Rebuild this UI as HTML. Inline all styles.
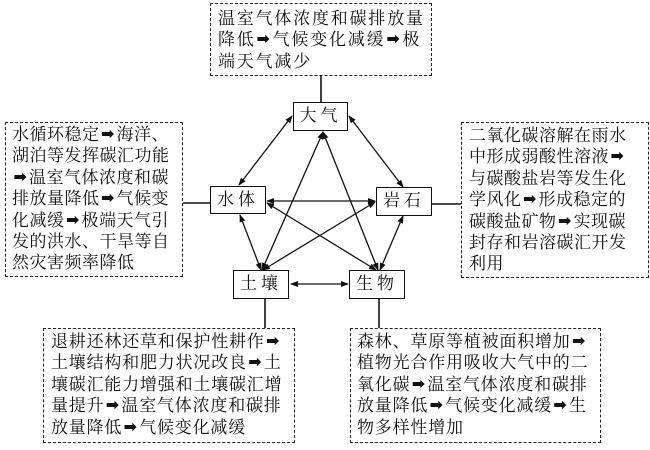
<!DOCTYPE html>
<html><head><meta charset="utf-8"><style>
body{margin:0;width:650px;height:450px;background:#fff;position:relative;overflow:hidden;font-family:"Liberation Serif","Noto Serif CJK SC","Noto Sans CJK SC",serif;color:#111}
.d{position:absolute;border:1.5px dashed #222;box-sizing:border-box}
.t{position:absolute;font-size:17px;line-height:21.4px;white-space:nowrap}
.t div{height:21.4px}
.n{position:absolute;border:1.5px solid #111;box-sizing:border-box;font-size:17px;text-align:center;letter-spacing:4px;background:#fff}
.a{font-family:"DejaVu Sans",sans-serif;font-size:16px;font-weight:bold;display:inline-block;width:17px;text-align:center;line-height:10px;vertical-align:1px}
svg{position:absolute;left:0;top:0}
</style></head><body>
<svg width="650" height="450">
<defs><marker id="m" markerWidth="8" markerHeight="8" refX="7" refY="4" orient="auto-start-reverse" markerUnits="userSpaceOnUse"><path d="M0,1 L8,4 L0,7 Z" fill="#111"/></marker></defs>
<g stroke="#111" stroke-width="1.3" fill="none">
<line x1="321" y1="75" x2="321" y2="102" stroke-width="1.6"/>
<line x1="183" y1="203" x2="210" y2="203" stroke-width="1.6"/>
<line x1="432" y1="204" x2="461" y2="204" stroke-width="1.6"/>
<line x1="265" y1="299" x2="265" y2="328" stroke-width="1.6"/>
<line x1="379" y1="299" x2="379" y2="328" stroke-width="1.6"/>
<g marker-start="url(#m)" marker-end="url(#m)">
<line x1="292" y1="116" x2="239" y2="185"/>
<line x1="349" y1="116" x2="403" y2="187"/>
<line x1="323" y1="132" x2="262" y2="270"/>
<line x1="323" y1="132" x2="378" y2="270"/>
<line x1="267" y1="201" x2="375" y2="201"/>
<line x1="240" y1="215" x2="261" y2="270"/>
<line x1="267" y1="203" x2="376" y2="270"/>
<line x1="375" y1="202" x2="263" y2="270"/>
<line x1="403" y1="216" x2="380" y2="270"/>
<line x1="291" y1="284" x2="348" y2="284"/>
</g></g></svg>
<div class="d" style="left:210px;top:3px;width:222px;height:73px"></div>
<div class="t" style="left:218px;top:8px;letter-spacing:1.8px"><div>温室气体浓度和碳排放量</div><div>降低<span class="a">➡</span>气候变化减缓<span class="a">➡</span>极</div><div>端天气减少</div></div>
<div class="d" style="left:5px;top:122px;width:178px;height:155px"></div>
<div class="t" style="left:12px;top:124px;letter-spacing:0.5px"><div>水循环稳定<span class="a">➡</span>海洋、</div><div>湖泊等发挥碳汇功能</div><div><span class="a">➡</span>温室气体浓度和碳</div><div>排放量降低<span class="a">➡</span>气候变</div><div>化减缓<span class="a">➡</span>极端天气引</div><div>发的洪水、干旱等自</div><div>然灾害频率降低</div></div>
<div class="d" style="left:461px;top:122px;width:188px;height:156px"></div>
<div class="t" style="left:469px;top:125px;letter-spacing:0.5px"><div>二氧化碳溶解在雨水</div><div>中形成弱酸性溶液<span class="a">➡</span></div><div>与碳酸盐岩等发生化</div><div>学风化<span class="a">➡</span>形成稳定的</div><div>碳酸盐矿物<span class="a">➡</span>实现碳</div><div>封存和岩溶碳汇开发</div><div>利用</div></div>
<div class="d" style="left:43px;top:328px;width:252px;height:115px"></div>
<div class="t" style="left:51px;top:331px;letter-spacing:0.8px"><div>退耕还林还草和保护性耕作<span class="a">➡</span></div><div>土壤结构和肥力状况改良<span class="a">➡</span>土</div><div>壤碳汇能力增强和土壤碳汇增</div><div>量提升<span class="a">➡</span>温室气体浓度和碳排</div><div>放量降低<span class="a">➡</span>气候变化减缓</div></div>
<div class="d" style="left:350px;top:328px;width:251px;height:115px"></div>
<div class="t" style="left:357px;top:331px;letter-spacing:0.8px"><div>森林、草原等植被面积增加<span class="a">➡</span></div><div>植物光合作用吸收大气中的二</div><div>氧化碳<span class="a">➡</span>温室气体浓度和碳排</div><div>放量降低<span class="a">➡</span>气候变化减缓<span class="a">➡</span>生</div><div>物多样性增加</div></div>
<div class="n" style="left:293px;top:102px;width:55px;height:29px;line-height:26px">大气</div>
<div class="n" style="left:210px;top:186px;width:56px;height:28px;line-height:25px">水体</div>
<div class="n" style="left:376px;top:187px;width:56px;height:29px;line-height:26px">岩石</div>
<div class="n" style="left:233px;top:270px;width:56px;height:29px;line-height:26px">土壤</div>
<div class="n" style="left:349px;top:270px;width:56px;height:29px;line-height:26px">生物</div>
</body></html>
